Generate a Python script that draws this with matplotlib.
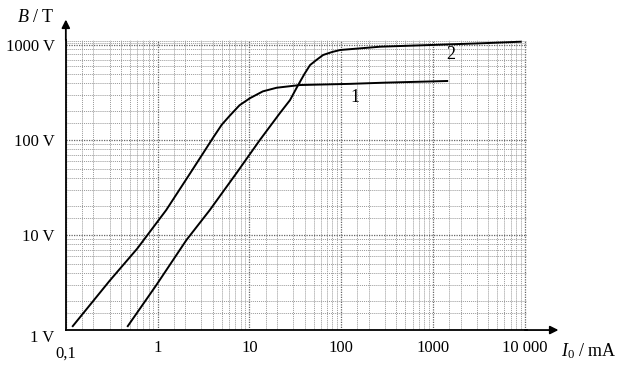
import matplotlib.pyplot as plt
from matplotlib.ticker import FixedLocator, NullFormatter

# curve 1
i1 = [0.119, 0.30, 0.60, 1.24, 2.24, 3.2, 4.0, 5.0, 6.1, 7.8, 10.1, 14, 19.8, 35.6, 125, 288, 1430]
b1 = [1.10, 3.3, 7.2, 18.3, 44, 75, 105, 145, 180, 232, 275, 325, 355, 379, 390, 401, 418]
# curve 2
i2 = [0.473, 0.97, 2.06, 3.70, 7.25, 13.0, 21.5, 27.7, 33.5, 40, 45.8, 54.2, 63.5, 80, 97.5, 267, 939, 3300, 9040]
b2 = [1.10, 2.98, 8.86, 18.3, 45, 100, 192, 263, 370, 500, 615, 700, 785, 845, 886, 960, 1000, 1042, 1083]

xticks = [0.1, 1, 10, 100, 1000, 10000]
xlabels = ['0,1', '1', '10', '100', '1000', '10 000']
yticks = [1, 10, 100, 1000]
ylabels = ['1 V', '10 V', '100 V', '1000 V']

plt.rcParams['font.family'] = ['Liberation Serif', 'DejaVu Serif']
plt.rcParams['mathtext.fontset'] = 'custom'
plt.rcParams['mathtext.rm'] = 'Liberation Serif'
plt.rcParams['mathtext.it'] = 'Liberation Serif:italic'

fig = plt.figure(figsize=(6.27, 3.70), dpi=100)
ax = fig.add_axes([0.105, 0.108, 0.735, 0.784])
ax.set_xscale('log')
ax.set_yscale('log')
ax.set_xlim(0.1, 10500)
ax.set_ylim(1, 1130)

ax.plot(i1, b1, color='black', lw=1.4)
ax.plot(i2, b2, color='black', lw=1.4)

subs = [1.5, 2, 3, 4, 5, 6, 7, 8, 9]
xminor = [s * 10.0 ** e for e in range(-1, 4) for s in subs]
yminor = [s * 10.0 ** e for e in range(0, 3) for s in subs] + [1050, 1100]
ax.xaxis.set_major_locator(FixedLocator(xticks))
ax.xaxis.set_minor_locator(FixedLocator(xminor))
ax.yaxis.set_major_locator(FixedLocator(yticks))
ax.yaxis.set_minor_locator(FixedLocator(yminor))
ax.xaxis.set_minor_formatter(NullFormatter())
ax.yaxis.set_minor_formatter(NullFormatter())
ax.set_xticklabels(xlabels)
ax.set_yticklabels(ylabels)
ax.tick_params(which='both', length=0, labelsize=12, colors='black')
ax.tick_params(axis='x', pad=7)
ax.tick_params(axis='y', pad=8)
# the first labels sit a little lower in the original
ax.get_xticklabels()[0].set_y(-0.02)
ax.get_yticklabels()[0].set_va('top')

ax.grid(which='major', color='#666666', ls=(0, (1, 1)), lw=0.9)
ax.grid(which='minor', color='#999999', ls=(0, (1, 1)), lw=0.7)

for s in ['top', 'right']:
    ax.spines[s].set_visible(False)
for s in ['left', 'bottom']:
    ax.spines[s].set_linewidth(1.3)

# axis arrows
ax.annotate('', xy=(1.075, 0), xytext=(0.99, 0), xycoords='axes fraction',
            arrowprops=dict(arrowstyle='-|>', color='black', lw=1.3, mutation_scale=12),
            annotation_clip=False)
ax.annotate('', xy=(0, 1.08), xytext=(0, 0.99), xycoords='axes fraction',
            arrowprops=dict(arrowstyle='-|>', color='black', lw=1.3, mutation_scale=12),
            annotation_clip=False)

fig.text(0.087, 0.952, r'$B$ / T', fontsize=13, ha='right', va='center')
fig.text(0.895, 0.052, r'$I_0$ / mA', fontsize=13, ha='left', va='center')

ax.text(142, 277, '1', fontsize=13, ha='center', va='center')
ax.text(1553, 785, '2', fontsize=13, ha='center', va='center')

fig.savefig('out.png', dpi=100)
